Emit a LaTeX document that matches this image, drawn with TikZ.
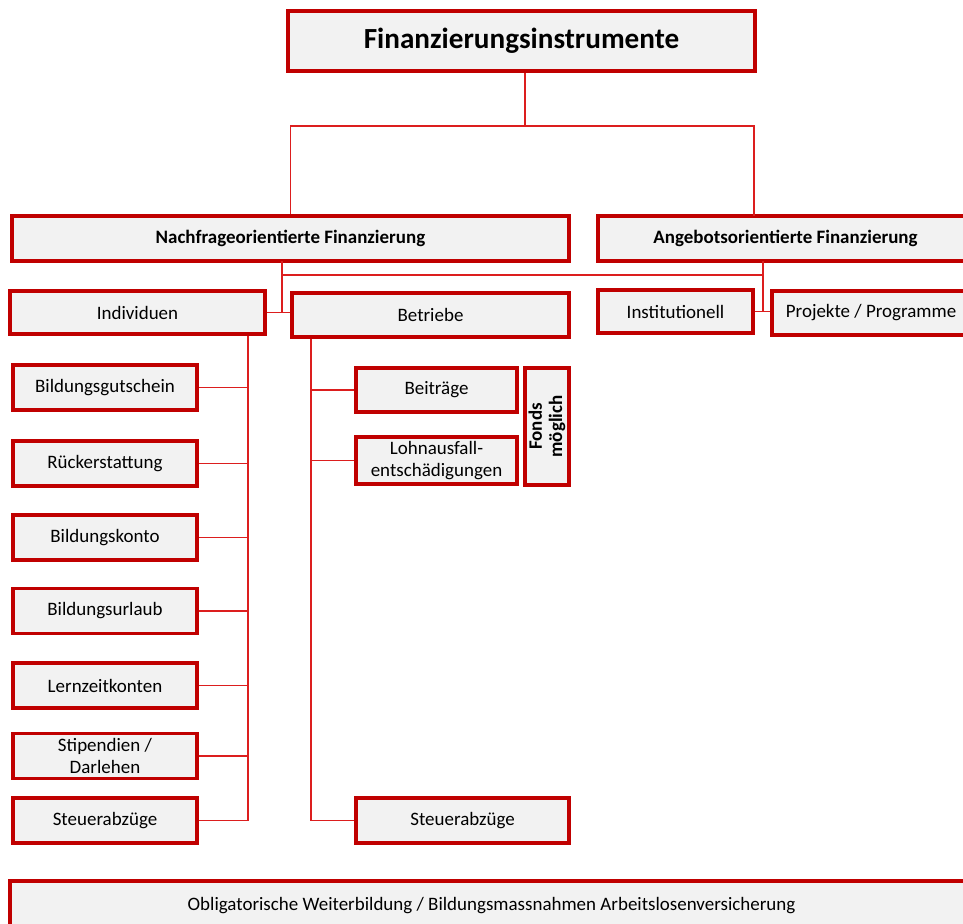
\documentclass[tikz,border=0pt]{standalone}
\usepackage{fontspec}
\setmainfont{Carlito}
\usetikzlibrary{calc}

\definecolor{boxred}{HTML}{C00000}
\definecolor{linered}{HTML}{DC1E1E}
\definecolor{boxfill}{HTML}{F2F2F2}

\tikzset{
    box/.style={draw=boxred, line width=2pt, fill=boxfill, rectangle,
        inner sep=1pt, align=center, font=\fontsize{10.8}{12.5}\selectfont},
    headbox/.style={box, font=\bfseries\fontsize{10.8}{12.5}\selectfont},
    conn/.style={draw=linered, line width=0.85pt}
}

\begin{document}
\begin{tikzpicture}[x=0.02cm, y=-0.02cm]
    \useasboundingbox (0,0) rectangle (963,923);
    \clip (0,0) rectangle (963,923);

    % Top level
    \node[box, font=\bfseries\fontsize{16.6}{19}\selectfont, minimum width=9.34cm, minimum height=1.2cm] (top) at (521.5,41) {Finanzierungsinstrumente};

    % Second level
    \node[headbox, minimum width=11.14cm, minimum height=0.9cm] (nach) at (290.5,238.5) {Nachfrageorientierte Finanzierung};
    \node[headbox, minimum width=7.5cm, minimum height=0.9cm] (ang) at (785.5,238.5) {Angebotsorientierte Finanzierung};

    % Third level
    \node[box, minimum width=5.1cm, minimum height=0.86cm] (ind) at (137.5,312.5) {Individuen};
    \node[box, minimum width=5.54cm, minimum height=0.88cm] (betr) at (430.5,315) {Betriebe};
    \node[box, minimum width=3.1cm, minimum height=0.86cm] (inst) at (675.5,311.5) {Institutionell};
    \node[box, minimum width=3.96cm, minimum height=0.88cm] (proj) at (871,313) {Projekte / Programme};

    % Instruments for individuals
    \node[box, minimum width=3.68cm, minimum height=0.9cm] (gut) at (105,387.5) {Bildungsgutschein};
    \node[box, minimum width=3.68cm, minimum height=0.9cm] (rueck) at (105,463.5) {Rückerstattung};
    \node[box, minimum width=3.68cm, minimum height=0.9cm] (konto) at (105,537.5) {Bildungskonto};
    \node[box, minimum width=3.68cm, minimum height=0.9cm] (urlaub) at (105,611) {Bildungsurlaub};
    \node[box, minimum width=3.68cm, minimum height=0.9cm] (lern) at (105,685.5) {Lernzeitkonten};
    \node[box, minimum width=3.68cm, minimum height=0.9cm] (stip) at (105,756) {Stipendien /\\Darlehen};
    \node[box, minimum width=3.68cm, minimum height=0.9cm] (steuerA) at (105,820.5) {Steuerabzüge};

    % Instruments for companies
    \node[box, minimum width=3.22cm, minimum height=0.88cm] (beit) at (436.5,390) {Beiträge};
    \node[box, minimum width=3.22cm, minimum height=0.94cm] (lohn) at (436.5,460.5) {Lohnausfall-\\entschädigungen};
    \node[box, font=\bfseries\fontsize{10.8}{11.5}\selectfont, minimum width=2.34cm, minimum height=0.88cm, rotate=90] (fonds) at (547,426.5) {Fonds\\möglich};
    \node[box, minimum width=4.26cm, minimum height=0.9cm] (steuerB) at (462.5,820.5) {Steuerabzüge};

    % Bottom
    \node[box, minimum width=19.26cm, minimum height=1.0cm] (oblig) at (491.5,906) {Obligatorische Weiterbildung / Bildungsmassnahmen Arbeitslosenversicherung};

    % Connectors from the top
    \coordinate (tsplit) at (525,126);
    \coordinate (angtop) at (754,216);
    \draw[conn] (top.south -| tsplit) -- (tsplit);
    \draw[conn] (nach.north) |- (tsplit) -| (angtop);

    % Connectors to third level
    \coordinate (nachout) at (282,261);
    \coordinate (angout) at (763,261);
    \coordinate (mid) at (282,275);
    \draw[conn] (nachout) -- (282,313);
    \draw[conn] (angout) -- (763,312);
    \draw[conn] (mid) -- (mid -| angout);
    \draw[conn] (ind.east) -- (ind.east -| betr.west);
    \draw[conn] (inst.east) -- (inst.east -| proj.west);

    % Spines
    \coordinate (spineA) at (248,0);
    \coordinate (spineB) at (311,0);
    \draw[conn] (ind.south -| spineA) -- (steuerA.east -| spineA);
    \draw[conn] (betr.south -| spineB) -- (steuerB.west -| spineB);
    \foreach \n in {gut, rueck, konto, urlaub, lern, stip, steuerA}
        \draw[conn] (\n.east) -- (\n.east -| spineA);
    \foreach \n in {beit, lohn, steuerB}
        \draw[conn] (\n.west) -- (\n.west -| spineB);
\end{tikzpicture}
\end{document}
